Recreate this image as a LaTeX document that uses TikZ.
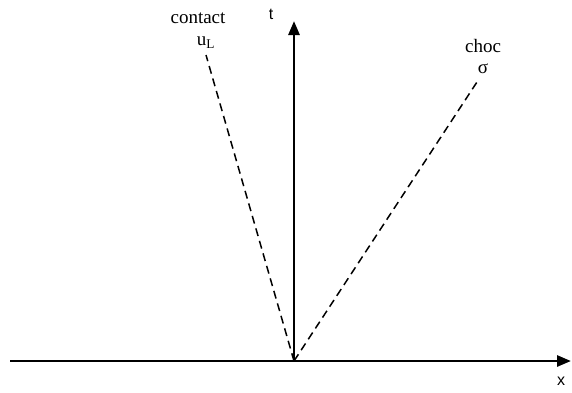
\documentclass[tikz,border=0pt]{standalone}
\usepackage{fontspec}
\setmainfont{Liberation Serif}
\setsansfont{Liberation Sans}
\usetikzlibrary{arrows.meta}
\begin{document}
\begin{tikzpicture}[x=1pt,y=-1pt,
  axis/.style={line width=2.7pt,-{Triangle[width=11pt,length=14pt]}},
  wave/.style={line width=1.5pt,dash pattern=on 8pt off 5pt},
  lbl/.style={font=\fontsize{19}{21}\selectfont,inner sep=0pt},
  axlbl/.style={font=\sffamily\fontsize{16}{18}\selectfont,inner sep=0pt}]
\useasboundingbox (0,0) rectangle (572,392);
\coordinate (O) at (294,361);
\coordinate (xl) at (10,361);
\coordinate (xr) at (571,361);
\coordinate (tt) at (294,21);
\coordinate (cl) at (206,55);
\coordinate (cr) at (477,82);
\draw[wave] (O) -- (cl);
\draw[wave] (O) -- (cr);
\draw[axis] (xl) -- (xr);
\draw[axis] (O) -- (tt);
\node[axlbl] (t) at (271,14) {t};
\node[axlbl] (x) at (561,381) {x};
\node[lbl] (contact) at (198,18) {contact};
\node[lbl] (uL) at (206,43) {u\textsubscript{L}};
\node[lbl] (choc) at (483,46) {choc};
\node[lbl] (sigma) at (483,69) {σ};
\end{tikzpicture}
\end{document}
